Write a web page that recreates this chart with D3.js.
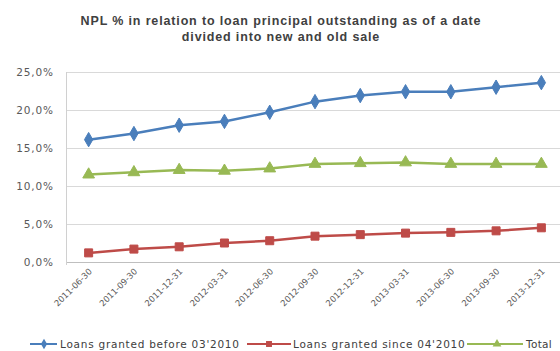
<!DOCTYPE html>
<html><head><meta charset="utf-8">
<script src="https://cdn.jsdelivr.net/npm/d3@7"></script>
<style>body{margin:0;background:#fff}svg{display:block}</style>
</head><body><svg id="c" width="560" height="351"></svg>
<script>
const categories = ["2011-06-30","2011-09-30","2011-12-31","2012-03-31","2012-06-30","2012-09-30","2012-12-31","2013-03-31","2013-06-30","2013-09-30","2013-12-31"];
const before0310 = [16.1,16.9,18.0,18.5,19.7,21.1,21.9,22.4,22.4,23.0,23.6];
const since0410 = [1.2,1.7,2.0,2.5,2.8,3.4,3.6,3.8,3.9,4.1,4.5];
const total = [11.5,11.8,12.1,12.0,12.3,12.9,13.0,13.1,12.9,12.9,12.9];
const yTicks = [0,5,10,15,20,25];
const seriesNames = ["Loans granted before 03'2010","Loans granted since 04'2010","Total"];
const titleLines = ["NPL % in relation to loan principal outstanding as of a date","divided into new and old sale"];

const svg = d3.select("#c");
const L = 66, R = 564, T = 72, B = 262;
const x = d3.scaleBand().domain(categories).range([L, R]);
const y = d3.scaleLinear().domain([0,25]).range([B, T]);
const font = "DejaVu Sans, sans-serif";

svg.append("g").selectAll("text").data(titleLines).join("text")
  .attr("x", 281).attr("y",(d,i)=>25+i*16).attr("text-anchor","middle")
  .attr("font-family","Liberation Sans, Arial, sans-serif").attr("font-size",12.5).attr("font-weight","bold")
  .attr("fill","#404040").attr("letter-spacing",0.85).text(d=>d);

// gridlines
svg.append("g").selectAll("line").data(yTicks).join("line")
  .attr("x1",L).attr("x2",560).attr("y1",d=>y(d)+0.5).attr("y2",d=>y(d)+0.5)
  .attr("stroke",d=>d===0?"#bfbfbf":"#d9d9d9").attr("stroke-width",1);
svg.append("line").attr("x1",L+0.5).attr("x2",L+0.5).attr("y1",T).attr("y2",B+3).attr("stroke","#d0d0d0");

// y labels
const fmt = d => d.toFixed(1).replace(".",",")+"%";
svg.append("g").selectAll("text").data(yTicks).join("text")
  .attr("x",54).attr("y",d=>y(d)+4).attr("text-anchor","end")
  .attr("font-family",font).attr("font-size",10.5).attr("letter-spacing",0.9).attr("fill","#595959").text(fmt);

// x labels
svg.append("g").selectAll("text").data(categories).join("text")
  .attr("transform",d=>`translate(${x(d)+x.bandwidth()/2+4},${B+10}) rotate(-45)`)
  .attr("text-anchor","end").attr("font-family",font).attr("font-size",8.5).attr("fill","#595959").text(d=>d);

const series = [
  {vals: before0310, color:"#4a7ebb", shape: d3.symbolDiamond, size: 60},
  {vals: since0410, color:"#be4b48", shape: d3.symbolSquare, size: 64},
  {vals: total, color:"#98b954", shape: d3.symbolTriangle, size: 60}
];
const cx = d => x(d)+x.bandwidth()/2;
series.forEach(s=>{
  const pts = categories.map((c,i)=>[cx(c), y(s.vals[i])]);
  svg.append("path").attr("d", d3.line()(pts)).attr("fill","none").attr("stroke",s.color).attr("stroke-width",2.5);
  svg.append("g").selectAll("path").data(pts).join("path")
    .attr("transform",p=>`translate(${p[0]},${p[1]})`)
    .attr("d", d3.symbol().type(s.shape).size(s.size)).attr("fill",s.color).attr("stroke",s.color).attr("stroke-width",1);
});

// legend
const legX = [30, 247, 467];
const lg = svg.append("g");
series.forEach((s,i)=>{
  const g = lg.append("g").attr("transform",`translate(${legX[i]},344)`);
  g.append("line").attr("x1",0).attr("x2",i===0?27:i===1?44:56).attr("stroke",s.color).attr("stroke-width",2);
  g.append("path").attr("transform",`translate(${i===0?14:i===1?22:30},0)`).attr("d",d3.symbol().type(s.shape).size(s.size*0.55)).attr("fill",s.color);
  g.append("text").attr("x",i===0?30:i===1?46:59).attr("y",3.5).attr("font-family",font).attr("font-size",i===2?10.5:10.5)
   .attr("fill","#404040").attr("letter-spacing",i===2?0.3:0.75).text(seriesNames[i]);
});
</script></body></html>
